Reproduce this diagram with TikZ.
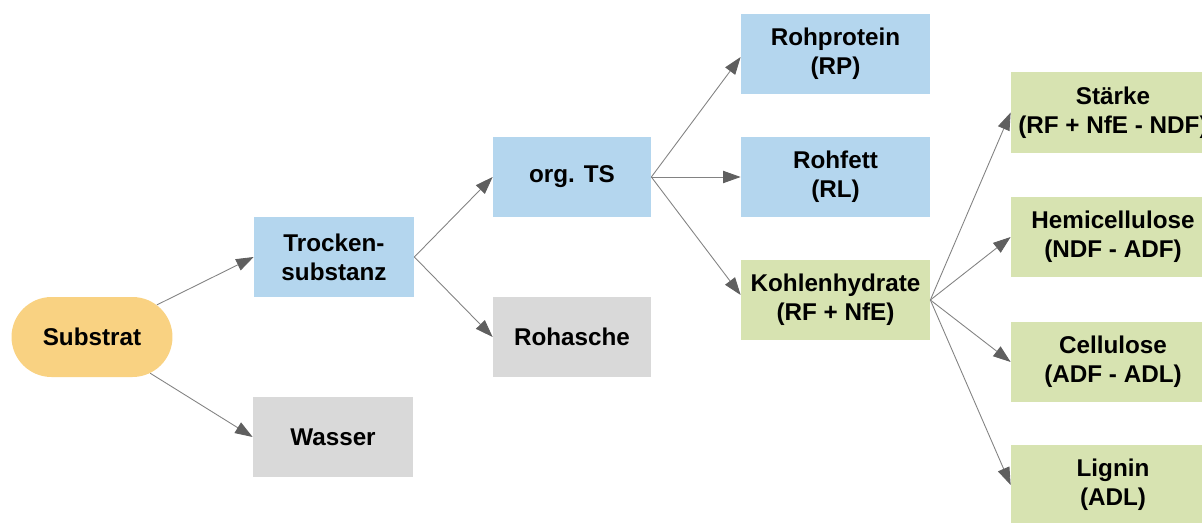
\documentclass[tikz,border=0pt]{standalone}
\usepackage{fontspec}
\setmainfont{Liberation Sans}
\usetikzlibrary{arrows.meta,shapes.misc}
\definecolor{boxblue}{RGB}{180,214,238}
\definecolor{boxgreen}{RGB}{215,227,177}
\definecolor{boxgray}{RGB}{217,217,217}
\definecolor{boxorange}{RGB}{249,210,130}
\definecolor{linegray}{RGB}{130,130,130}
\definecolor{headgray}{RGB}{95,95,95}

\begin{document}
\begin{tikzpicture}
    % Define styles
    \tikzset{
        box/.style={minimum height=1.6cm, align=center, inner sep=2pt,
            font=\fontsize{13.8}{16.5}\selectfont\bfseries},
        bluebox/.style={box, fill=boxblue},
        greenbox/.style={box, fill=boxgreen},
        graybox/.style={box, fill=boxgray},
        startbox/.style={box, rounded rectangle, fill=boxorange, minimum width=3.36cm},
        link/.style={linegray, line width=0.5pt,
            -{Triangle[length=10pt,width=7pt,color=headgray]}}
    }

    % Frame
    \clip (0,0) rectangle (24.04,10.44);
    \useasboundingbox (0,0) rectangle (24.04,10.44);

    % Left part
    \node[startbox] (sub) at (1.84,3.70) {Substrat};
    \node[bluebox, minimum width=3.2cm] (ts) at (6.68,5.30) {Trocken-\\substanz};
    \node[graybox, minimum width=3.2cm] (wasser) at (6.66,1.70) {Wasser};

    % Middle part
    \node[bluebox, minimum width=3.16cm] (ots) at (11.44,6.90) {org. TS};
    \node[graybox, minimum width=3.16cm] (ra) at (11.44,3.70) {Rohasche};

    % Nutrients
    \node[bluebox, minimum width=3.78cm] (rp) at (16.71,9.36) {Rohprotein\\(RP)};
    \node[bluebox, minimum width=3.78cm] (rl) at (16.71,6.90) {Rohfett\\(RL)};
    \node[greenbox, minimum width=3.78cm] (kh) at (16.71,4.44) {Kohlenhydrate\\(RF + NfE)};

    % Carbohydrate fractions
    \node[greenbox, minimum width=4.08cm] (st) at (22.26,8.19) {Stärke\\(RF + NfE - NDF)};
    \node[greenbox, minimum width=4.08cm] (hc) at (22.26,5.70) {Hemicellulose\\(NDF - ADF)};
    \node[greenbox, minimum width=4.08cm] (cl) at (22.26,3.20) {Cellulose\\(ADF - ADL)};
    \node[greenbox, minimum width=4.08cm] (lg) at (22.26,0.74) {Lignin\\(ADL)};

    % Arrows
    \draw[link] (sub) -- (ts.west);
    \draw[link] (sub) -- (wasser.west);
    \draw[link] (ts.east) -- (ots.west);
    \draw[link] (ts.east) -- (ra.west);
    \draw[link] (ots.east) -- ([yshift=-0.06cm]rp.west);
    \draw[link] (ots.east) -- (rl.west);
    \draw[link] (ots.east) -- ([yshift=0.1cm]kh.west);
    \foreach \n in {st,hc,cl,lg}
        \draw[link] (kh.east) -- (\n.west);

\end{tikzpicture}
\end{document}
